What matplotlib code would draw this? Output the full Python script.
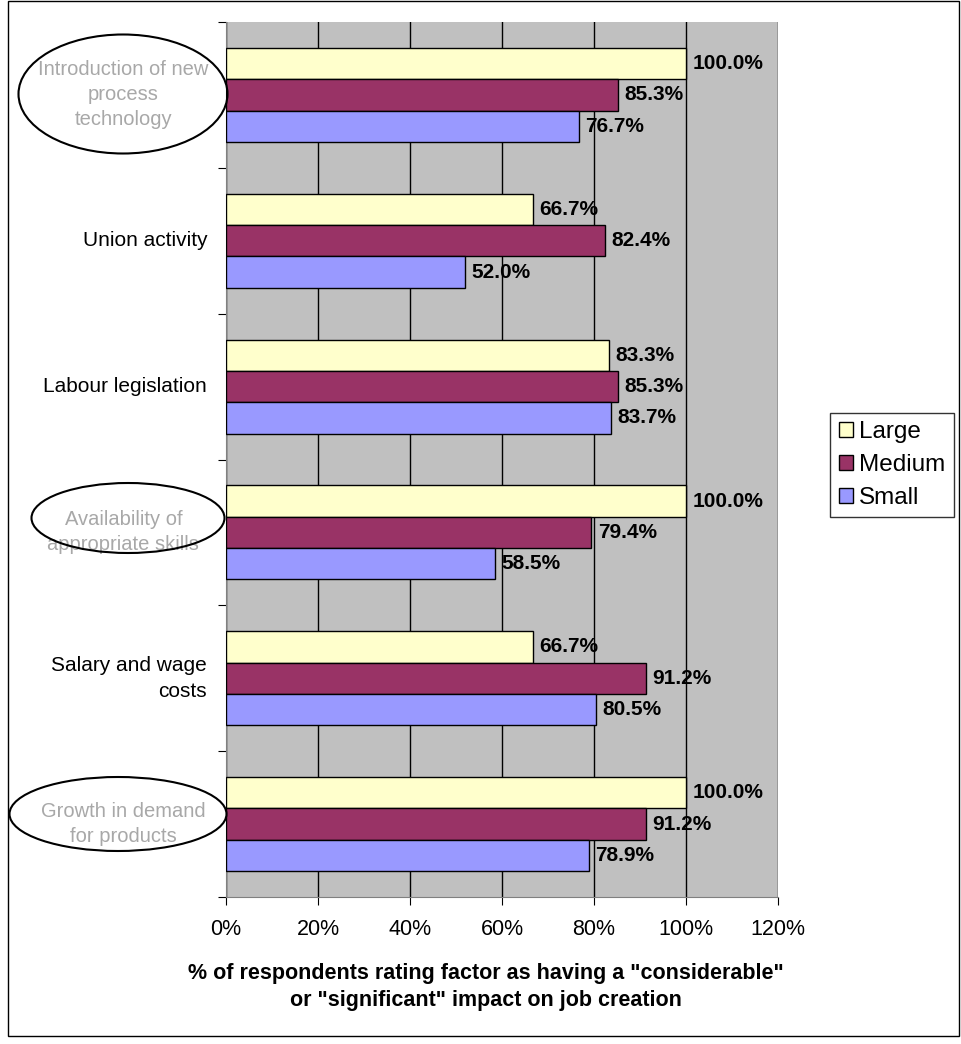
import matplotlib.pyplot as plt
from matplotlib.patches import Ellipse, Rectangle
from matplotlib.ticker import PercentFormatter
import numpy as np

plt.rcParams['font.family'] = ['Liberation Sans', 'DejaVu Sans']

factors = ['Growth in demand\nfor products', 'Salary and wage\ncosts',
           'Availability of\nappropriate skills', 'Labour legislation',
           'Union activity', 'Introduction of new\nprocess\ntechnology']
circled = [True, False, True, False, False, True]
large = [100.0, 66.7, 100.0, 83.3, 66.7, 100.0]
medium = [91.2, 91.2, 79.4, 85.3, 82.4, 85.3]
small = [78.9, 80.5, 58.5, 83.7, 52.0, 76.7]
series = [('Large', large, '#FFFFCC'), ('Medium', medium, '#993366'), ('Small', small, '#9999FF')]

W, H = 961, 1044
fig = plt.figure(figsize=(W / 100, H / 100), dpi=100)
ax = fig.add_axes([226 / W, 1 - 897 / H, (778 - 226) / W, (897 - 22) / H])
ax.set_facecolor('#C0C0C0')

y = np.arange(len(factors))
h = 0.215
offsets = [h, 0, -h]
for (name, vals, col), off in zip(series, offsets):
    v = np.array(vals) / 100
    ax.barh(y + off, v, height=h, color=col, edgecolor='black', linewidth=1, label=name, zorder=3)
    for yi, vi in zip(y, v):
        ax.text(vi + 0.014, yi + off, f'{vi * 100:.1f}%', va='center', ha='left',
                fontsize=15, fontweight='bold', zorder=4)

ax.set_xlim(0, 1.2)
ax.set_ylim(-0.5, len(factors) - 0.5)
ax.set_xticks(np.arange(0, 1.21, 0.2))
ax.xaxis.set_major_formatter(PercentFormatter(1.0, decimals=0))
ax.grid(axis='x', color='black', linewidth=1, zorder=0)
ax.set_axisbelow(True)
ax.set_yticks(np.arange(-0.5, len(factors), 1))
ax.set_yticklabels([])
ax.tick_params(axis='both', direction='out', length=6, labelsize=15.5, color='black')
ax.tick_params(axis='x', pad=10)
for s in ['top', 'right']:
    ax.spines[s].set_visible(False)
ax.spines['left'].set_color('#808080')
ax.spines['bottom'].set_color('#808080')

for yi, lab, c in zip(y, factors, circled):
    if c:
        ax.text(-0.186, yi, lab, ha='center', va='center', fontsize=14.5, color='#a8a8a8',
                transform=ax.get_yaxis_transform(), linespacing=1.4)
    else:
        ax.text(-0.034, yi, lab, ha='right', va='center', fontsize=15,
                transform=ax.get_yaxis_transform(), linespacing=1.45)

# ellipses around circled labels (figure pixel coords)
for cx, cy, ew, eh in [(123, 94, 209, 119), (128, 518, 193, 70), (118, 814, 217, 74)]:
    fig.patches.append(Ellipse((cx / W, 1 - cy / H), ew / W, eh / H, transform=fig.transFigure,
                               fill=False, edgecolor='black', linewidth=1.5))

fig.text(486 / W, 1 - 987 / H, '% of respondents rating factor as having a "considerable"\nor "significant" impact on job creation',
         ha='center', va='center', fontsize=15.5, fontweight='bold', linespacing=1.4)

leg = fig.legend(loc='center', bbox_to_anchor=(892 / W, 1 - 465 / H), fontsize=17.5,
                 frameon=True, fancybox=False, edgecolor='black', handlelength=0.6,
                 handleheight=0.6, handletextpad=0.25, labelspacing=0.45, borderpad=0.35,
                 borderaxespad=0)
leg.get_frame().set_linewidth(1)

fig.patches.append(Rectangle((8 / W, 8 / H), (W - 10) / W, (H - 9) / H, transform=fig.transFigure,
                             fill=False, edgecolor='black', linewidth=1))

fig.savefig('out.png', dpi=100)
